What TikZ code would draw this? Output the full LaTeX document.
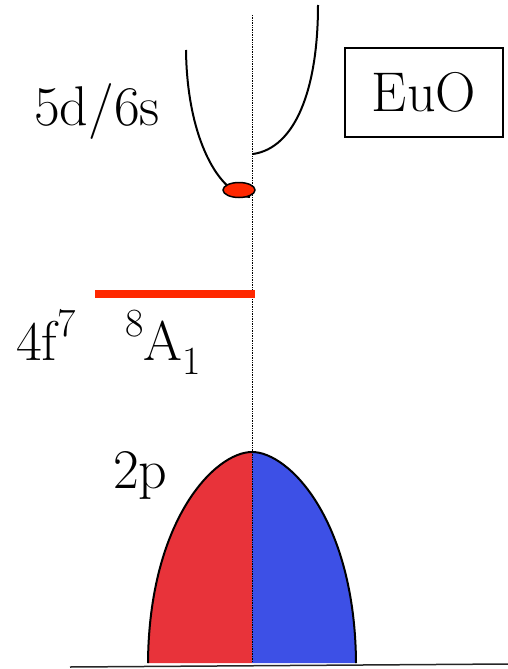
\documentclass[tikz,border=0pt]{standalone}
\usetikzlibrary{shapes.geometric}
\definecolor{levelred}{RGB}{255,40,0}
\definecolor{bandred}{RGB}{232,51,58}
\definecolor{bandblue}{RGB}{61,80,230}
\newcommand{\bigtext}{\fontsize{56}{66}\selectfont}
\newcommand{\supdigit}[1]{\raisebox{0.42em}{\fontsize{40}{40}\selectfont #1}}
\newcommand{\subdigit}[1]{\raisebox{-0.25em}{\fontsize{40}{40}\selectfont #1}}

\begin{document}
\begin{tikzpicture}[
    x=1pt, y=-1pt,
    label/.style={anchor=base west, inner sep=0pt, font=\bigtext},
    band/.style={line width=2pt, line join=round},
    axis/.style={densely dotted, line width=0.7pt}
]
\useasboundingbox (0,0) rectangle (508,669);

% axis through the middle
\coordinate (axtop) at (252,15);
\coordinate (axbot) at (252,662);
\draw[axis] (axtop)--(axbot);

% conduction band
\coordinate (cbl) at (186,50);
\coordinate (cbmin) at (250,197);
\coordinate (cbr0) at (253,154);
\coordinate (cbr) at (318,5);
\draw[band] (cbl) .. controls (187,140) and (220,195) .. (cbmin);
\draw[band] (cbr0) .. controls (295,148) and (318,90) .. (cbr);
\node[ellipse, draw, line width=1.5pt, fill=levelred, minimum width=32pt,
      minimum height=15pt, inner sep=0pt] (dot) at (239,190) {};

% 4f level
\coordinate (fl) at (95,294);
\coordinate (fr) at (255,294);
\draw[levelred, line width=8pt] (fl)--(fr);

% 2p band
\coordinate (pl) at (148,663);
\coordinate (ptop) at (252,452);
\coordinate (pr) at (356,663);
\fill[bandred] (pl) .. controls (149,520) and (215,452) .. (ptop) -- (252,663) -- cycle;
\fill[bandblue] (pr) .. controls (355,520) and (289,452) .. (ptop) -- (252,663) -- cycle;
\draw[axis] (ptop)--(axbot);
\draw[band] (pl) .. controls (149,520) and (215,452) .. (ptop)
   .. controls (289,452) and (355,520) .. (pr);

% base line
\coordinate (basel) at (70,667);
\coordinate (baser) at (508,664);
\draw[black!85, line width=1.5pt] (basel)--(baser);

% labels
\node[label] (cblabel) at (34,125) {5d/6s};
\node[label] (flabel) at (16,360) {4f\supdigit{7}};
\node[label] (termlabel) at (125,360) {\supdigit{8}A\subdigit{1}};
\node[label] (plabel) at (113,488) {2p};
\node[draw, line width=1.2pt, minimum width=158pt, minimum height=89pt,
      inner sep=0pt, font=\bigtext] (euo) at (424,92.5) {EuO};
\end{tikzpicture}
\end{document}
